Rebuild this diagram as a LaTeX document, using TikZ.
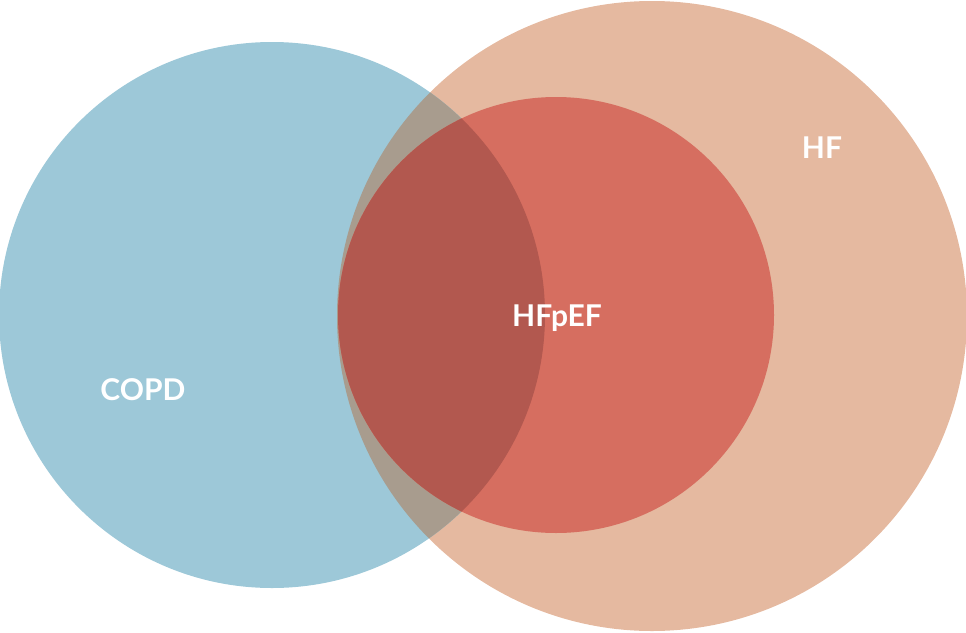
\documentclass[tikz,border=0pt]{standalone}
\usepackage{fontspec}
\setmainfont{Lato}
\definecolor{copdblue}{HTML}{9DC8D8}
\definecolor{hfpeach}{HTML}{E5B9A0}
\definecolor{hfpefred}{HTML}{D66E60}
\definecolor{mixgray}{HTML}{A89C8E}
\definecolor{mixred}{HTML}{B2584F}
\tikzset{
    setlabel/.style={text=white, font=\bfseries\fontsize{30}{30}\selectfont},
}
\newcommand{\copdpath}{(272,315) circle (273)}
\newcommand{\hfpath}{(652,316) circle (315)}
\newcommand{\hfpefpath}{(556,315) circle (218)}
\begin{document}
\begin{tikzpicture}[x=1pt, y=-1pt]
    \useasboundingbox (0,0) rectangle (966,632);

    \fill[hfpeach] \hfpath;
    \fill[copdblue] \copdpath;
    \begin{scope}
        \clip \copdpath;
        \fill[mixgray] \hfpath;
    \end{scope}
    \fill[hfpefred] \hfpefpath;
    \begin{scope}
        \clip \copdpath;
        \fill[mixred] \hfpefpath;
    \end{scope}

    \node[setlabel] (HF)    at (822,148) {HF};
    \node[setlabel] (HFpEF) at (557,318) {HFpEF};
    \node[setlabel] (COPD)  at (143,390) {COPD};
\end{tikzpicture}
\end{document}
